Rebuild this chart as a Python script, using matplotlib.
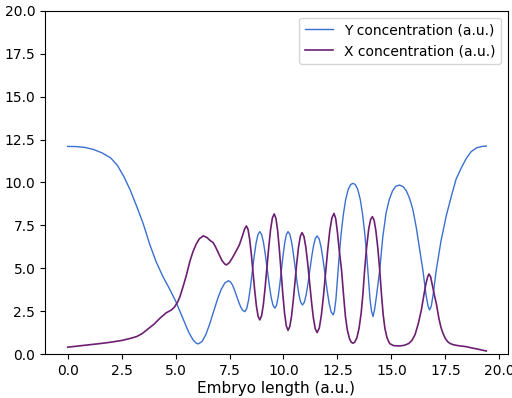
import matplotlib
matplotlib.use("Agg")
import matplotlib.pyplot as plt
from matplotlib.ticker import FormatStrFormatter

# Y concentration
y_pos = [0.0, 0.4, 0.8, 1.2, 1.6, 2.0, 2.3, 2.6, 2.9, 3.2, 3.5, 3.8, 4.1, 4.4,
         4.7, 5.0, 5.2, 5.4, 5.6, 5.8, 5.95, 6.05,
         6.225, 6.4, 6.575, 6.75, 6.925, 7.1, 7.275, 7.45,
         7.545, 7.64, 7.735, 7.83, 7.925, 8.02, 8.115, 8.21,
         8.296, 8.383, 8.469, 8.555, 8.641, 8.728, 8.814, 8.9,
         8.988, 9.075, 9.163, 9.25, 9.338, 9.425, 9.513, 9.6,
         9.676, 9.753, 9.829, 9.905, 9.981, 10.058, 10.134, 10.21,
         10.294, 10.378, 10.461, 10.545, 10.629, 10.713, 10.796, 10.88,
         10.965, 11.05, 11.135, 11.22, 11.305, 11.39, 11.475, 11.56,
         11.653, 11.745, 11.838, 11.93, 12.023, 12.115, 12.208, 12.3,
         12.36, 12.43, 12.5, 12.58, 12.67, 12.77, 12.88, 13.0, 13.11, 13.22,
         13.33, 13.44, 13.56, 13.67, 13.77, 13.86, 13.94, 14.01, 14.08, 14.15,
         14.22, 14.3, 14.38, 14.46, 14.6, 14.75, 14.9, 15.05, 15.2, 15.38,
         15.55, 15.7, 15.85, 16.0, 16.15, 16.3, 16.46, 16.6, 16.7, 16.77,
         16.85, 16.95, 17.08, 17.3, 17.55, 17.8, 18.0, 18.24, 18.47, 18.7,
         18.95, 19.2, 19.4]
y_conc = [12.1, 12.09, 12.04, 11.92, 11.72, 11.42, 11.0, 10.35, 9.55, 8.6, 7.6,
          6.4, 5.38, 4.55, 3.85, 3.1, 2.5, 1.9, 1.3, 0.85, 0.65, 0.6,
          0.74, 1.14, 1.74, 2.44, 3.14, 3.74, 4.14, 4.28,
          4.21, 4.02, 3.72, 3.38, 3.04, 2.74, 2.55, 2.48,
          2.66, 3.16, 3.92, 4.81, 5.70, 6.46, 6.96, 7.14,
          6.97, 6.49, 5.76, 4.91, 4.06, 3.33, 2.85, 2.68,
          2.85, 3.33, 4.06, 4.91, 5.76, 6.49, 6.97, 7.14,
          6.98, 6.52, 5.82, 5.0, 4.19, 3.49, 3.03, 2.87,
          3.02, 3.46, 4.11, 4.88, 5.65, 6.30, 6.74, 6.89,
          6.72, 6.22, 5.47, 4.59, 3.71, 2.96, 2.46, 2.29,
          2.5, 3.2, 4.4, 5.7, 7.0, 8.1, 9.0, 9.6, 9.88, 9.95,
          9.88, 9.6, 9.0, 8.1, 7.0, 5.7, 4.4, 3.2, 2.5, 2.19,
          2.6, 3.3, 4.1, 4.9, 6.8, 8.2, 9.0, 9.5, 9.78, 9.85,
          9.75, 9.5, 9.05, 8.4, 7.4, 6.2, 4.9, 3.5, 2.8, 2.58,
          2.8, 3.6, 4.9, 6.6, 8.1, 9.3, 10.2, 10.85, 11.4, 11.8,
          12.02, 12.1, 12.12]

# X concentration
x_pos = [0.0, 0.5, 1.0, 1.5, 2.0, 2.5, 2.9, 3.2, 3.45, 3.7, 4.0, 4.27, 4.55,
         4.81, 4.95, 5.1, 5.2, 5.35, 5.5, 5.66, 5.8, 5.95, 6.1, 6.28, 6.45,
         6.6, 6.74, 6.85, 7.0, 7.15, 7.28, 7.36, 7.5, 7.65, 7.8, 7.95, 8.1,
         8.2, 8.28,
         8.358, 8.435, 8.513, 8.59, 8.668, 8.745, 8.823, 8.9,
         8.984, 9.068, 9.151, 9.235, 9.319, 9.403, 9.486, 9.57,
         9.65, 9.73, 9.81, 9.89, 9.97, 10.05, 10.13, 10.21,
         10.291, 10.373, 10.454, 10.535, 10.616, 10.698, 10.779, 10.86,
         10.948, 11.035, 11.123, 11.21, 11.298, 11.385, 11.473, 11.56,
         11.658, 11.755, 11.853, 11.95, 12.048, 12.145, 12.243, 12.34,
         12.42, 12.5, 12.58, 12.69, 12.78, 12.87, 12.96, 13.06, 13.14, 13.22,
         13.3, 13.4, 13.5, 13.6, 13.68, 13.76, 13.85, 13.95, 14.04, 14.12,
         14.2, 14.28, 14.37, 14.46, 14.54, 14.62, 14.7, 14.8, 14.92, 15.1,
         15.38, 15.6, 15.8, 15.95, 16.1, 16.25, 16.39, 16.5, 16.6, 16.68,
         16.74, 16.82, 16.9, 17.0, 17.08, 17.2, 17.3, 17.39, 17.5, 17.6,
         17.7, 17.85, 18.0, 18.2, 18.47, 18.75, 19.0, 19.2, 19.4]
x_conc = [0.41, 0.48, 0.55, 0.62, 0.7, 0.8, 0.92, 1.03, 1.2, 1.45, 1.75, 2.09,
          2.4, 2.58, 2.75, 3.05, 3.35, 3.95, 4.6, 5.4, 5.95, 6.4, 6.72, 6.89,
          6.8, 6.62, 6.5, 6.25, 5.85, 5.45, 5.25, 5.2, 5.35, 5.65, 6.0, 6.35,
          6.9, 7.3, 7.47,
          7.26, 6.67, 5.78, 4.74, 3.69, 2.80, 2.21, 2.0,
          2.23, 2.90, 3.91, 5.09, 6.26, 7.27, 7.94, 8.17,
          7.91, 7.18, 6.07, 4.78, 3.49, 2.38, 1.65, 1.39,
          1.61, 2.22, 3.15, 4.24, 5.32, 6.25, 6.86, 7.08,
          6.86, 6.23, 5.28, 4.17, 3.06, 2.11, 1.48, 1.26,
          1.52, 2.27, 3.40, 4.73, 6.06, 7.19, 7.94, 8.2,
          7.9, 7.1, 6.1, 4.9, 3.5, 2.2, 1.4, 0.9, 0.7, 0.64,
          0.7, 0.95, 1.5, 2.4, 3.5, 4.9, 6.2, 7.3, 7.85, 8.01,
          7.8, 7.2, 6.2, 4.9, 3.5, 2.3, 1.5, 0.95, 0.62, 0.5,
          0.48, 0.52, 0.62, 0.8, 1.15, 1.8, 2.58, 3.4, 4.1, 4.5,
          4.67, 4.5, 4.0, 3.4, 2.97, 2.1, 1.55, 1.22, 0.92, 0.74,
          0.64, 0.56, 0.52, 0.48, 0.44, 0.36, 0.3, 0.24, 0.19]

ticks = [0, 2.5, 5, 7.5, 10, 12.5, 15, 17.5, 20]

fig = plt.figure(figsize=(5.12, 3.98), dpi=100)
ax = fig.add_axes([0.088, 0.11, 0.904, 0.863])

ax.plot(y_pos, y_conc, color='#3a70d0', lw=1.0, label='Y concentration (a.u.)')
ax.plot(x_pos, x_conc, color='#6c1f72', lw=1.2, label='X concentration (a.u.)')

ax.set_ylim(0, 20)
ax.set_xlim(-1.05, 20.4)
ax.set_xticks(ticks)
ax.set_yticks(ticks)
ax.xaxis.set_major_formatter(FormatStrFormatter('%.1f'))
ax.yaxis.set_major_formatter(FormatStrFormatter('%.1f'))
ax.set_xlabel('Embryo length (a.u.)', fontsize=11, labelpad=2)
ax.legend(loc='upper right')

fig.savefig('out.png', dpi=100)
